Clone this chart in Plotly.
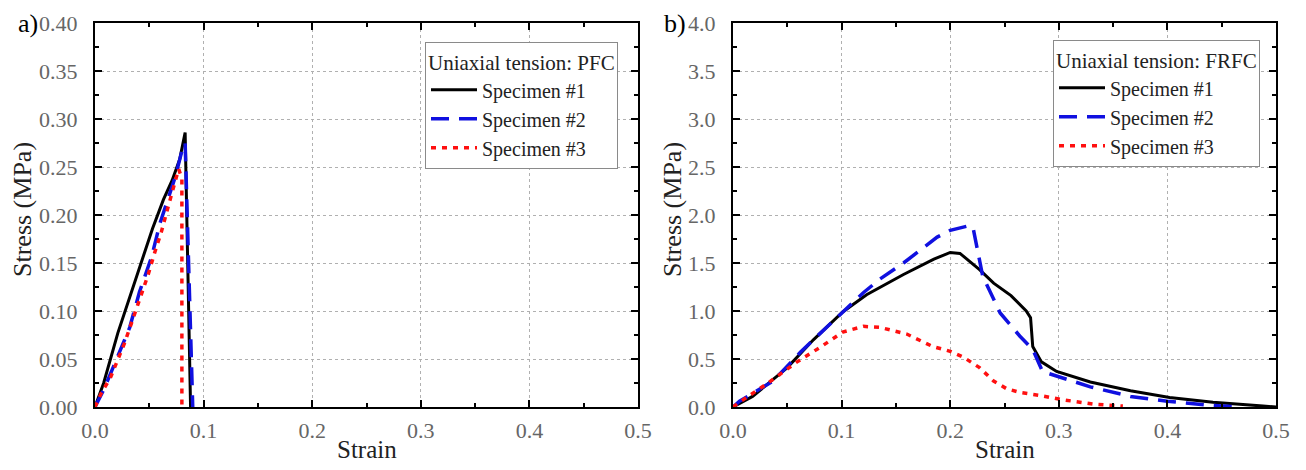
import plotly.graph_objects as go

# ---------------- data ----------------
# Panel a) PFC
a_s1_strain = [0, 0.008, 0.021, 0.030, 0.041, 0.053, 0.063, 0.071, 0.078, 0.083, 0.088]
a_s1_stress = [0, 0.025, 0.077, 0.108, 0.146, 0.186, 0.216, 0.236, 0.258, 0.286, 0.0]

a_s2_strain = [0, 0.008, 0.017, 0.032, 0.041, 0.052, 0.060, 0.074, 0.081, 0.083, 0.090]
a_s2_stress = [0, 0.018, 0.042, 0.083, 0.120, 0.156, 0.192, 0.240, 0.271, 0.275, 0.0]

a_s3_strain = [0, 0.006, 0.014, 0.020, 0.027, 0.035, 0.042, 0.049, 0.055, 0.061, 0.067, 0.073, 0.077, 0.080, 0.080]
a_s3_stress = [0, 0.015, 0.030, 0.046, 0.066, 0.092, 0.115, 0.138, 0.161, 0.182, 0.207, 0.232, 0.248, 0.238, 0.0]

# Panel b) FRFC
b_s1_strain = [0, 0.018, 0.050, 0.074, 0.101, 0.123, 0.157, 0.185, 0.200, 0.209, 0.227, 0.240,
               0.256, 0.270, 0.274, 0.276, 0.284, 0.298, 0.329, 0.366, 0.402, 0.442, 0.488, 0.500]
b_s1_stress = [0, 0.11, 0.41, 0.70, 0.99, 1.17, 1.38, 1.54, 1.61, 1.60, 1.43, 1.29,
               1.16, 1.00, 0.93, 0.63, 0.47, 0.37, 0.26, 0.17, 0.10, 0.05, 0.01, 0.0]

b_s2_strain = [0, 0.006, 0.037, 0.062, 0.074, 0.100, 0.120, 0.135, 0.157, 0.188, 0.200, 0.218,
               0.221, 0.230, 0.246, 0.264, 0.276, 0.285, 0.301, 0.329, 0.366, 0.400, 0.436, 0.467]
b_s2_stress = [0, 0.06, 0.27, 0.57, 0.70, 0.97, 1.19, 1.33, 1.50, 1.77, 1.84, 1.89,
               1.87, 1.36, 0.98, 0.74, 0.60, 0.37, 0.31, 0.21, 0.11, 0.06, 0.02, 0.0]

b_s3_strain = [0, 0.006, 0.031, 0.059, 0.080, 0.101, 0.120, 0.135, 0.160, 0.184, 0.200, 0.212,
               0.227, 0.240, 0.252, 0.265, 0.283, 0.301, 0.332, 0.359]
b_s3_stress = [0, 0.05, 0.24, 0.47, 0.62, 0.78, 0.84, 0.83, 0.76, 0.63, 0.58, 0.52,
               0.41, 0.27, 0.19, 0.15, 0.12, 0.08, 0.03, 0.01]

series_names = ["Specimen #1", "Specimen #2", "Specimen #3"]
legend_titles = ["Uniaxial tension: PFC", "Uniaxial tension: FRFC"]
panel_labels = ["a)", "b)"]
x_title = "Strain"
y_title = "Stress (MPa)"

# ---------------- styles ----------------
FONT = "Liberation Serif, Times New Roman, serif"
styles = [
    dict(color="black", width=3, dash="solid"),
    dict(color="#1010e0", width=3.5, dash="18px,10px"),
    dict(color="#ff1010", width=3.5, dash="5px,6px"),
]

fig = go.Figure()

panel_a = [(a_s1_strain, a_s1_stress), (a_s2_strain, a_s2_stress), (a_s3_strain, a_s3_stress)]
panel_b = [(b_s1_strain, b_s1_stress), (b_s2_strain, b_s2_stress), (b_s3_strain, b_s3_stress)]

for i, (x, y) in enumerate(panel_a):
    fig.add_trace(go.Scatter(x=x, y=y, mode="lines", name=series_names[i], line=styles[i],
                             xaxis="x", yaxis="y", legend="legend"))
for i, (x, y) in enumerate(panel_b):
    fig.add_trace(go.Scatter(x=x, y=y, mode="lines", name=series_names[i], line=styles[i],
                             xaxis="x2", yaxis="y2", legend="legend2"))

# page has an 8px body margin; figure sized so page is 1306x470
OFF = 8
W, H = 1306 - 2 * OFF, 470 - 2 * OFF

def px(x):
    return (x - OFF) / W

def py(y):
    return 1 - (y - OFF) / H

xa = [px(95), px(638)]
xb = [px(733), px(1276)]
ydom = [py(407), py(23)]

tickfont = dict(family=FONT, size=22, color="#666666")

def xaxis(domain, anchor):
    return dict(domain=domain, anchor=anchor, range=[0, 0.5], dtick=0.1, tick0=0,
                tickformat=".1f", ticks="inside", ticklen=7, tickwidth=1.5, tickcolor="black",
                minor=dict(dtick=0.05, ticks="inside", ticklen=4, tickcolor="black", showgrid=False),
                showline=True, linecolor="black", linewidth=2, mirror="ticks",
                showgrid=True, gridcolor="#b0b0b0", griddash="dot", gridwidth=1,
                zeroline=False, tickfont=tickfont, ticklabelstandoff=3, automargin=False)

def yaxis(domain, anchor, rng, dt, fmt):
    return dict(domain=domain, anchor=anchor, range=rng, dtick=dt, tick0=0,
                tickformat=fmt, ticks="inside", ticklen=7, tickwidth=1.5, tickcolor="black",
                minor=dict(dtick=dt / 2, ticks="inside", ticklen=4, tickcolor="black", showgrid=False),
                showline=True, linecolor="black", linewidth=2, mirror="ticks",
                showgrid=True, gridcolor="#b0b0b0", griddash="dot", gridwidth=1,
                zeroline=False, tickfont=tickfont, ticklabelstandoff=11, automargin=False)

legend_common = dict(bgcolor="white", bordercolor="#8a8a8a", borderwidth=1,
                     font=dict(family=FONT, size=20, color="#222222"),
                     xanchor="right", yanchor="top", itemwidth=46,
                     tracegroupgap=0)

def label(text, x, y, size, angle=0, color="#222222"):
    return dict(text=text, x=px(x), y=py(y), xref="paper", yref="paper",
                xanchor="center", yanchor="middle", showarrow=False, textangle=angle,
                borderpad=0, font=dict(family=FONT, size=size, color=color))

fig.update_layout(
    width=W, height=H,
    margin=dict(l=0, r=0, t=0, b=0, autoexpand=False),
    paper_bgcolor="white", plot_bgcolor="white",
    font=dict(family=FONT),
    xaxis=xaxis(xa, "y"),
    yaxis=yaxis(ydom, "x", [0, 0.4], 0.05, ".2f"),
    xaxis2=xaxis(xb, "y2"),
    yaxis2=yaxis(ydom, "x2", [0, 4.0], 0.5, ".1f"),
    legend=dict(x=px(618), y=py(42),
                title=dict(text=legend_titles[0], font=dict(family=FONT, size=21, color="#222222")),
                **legend_common),
    legend2=dict(x=px(1260), y=py(40),
                 title=dict(text=legend_titles[1], font=dict(family=FONT, size=21, color="#222222")),
                 **legend_common),
    annotations=[
        label(panel_labels[0], 28, 23, 26, color="black"),
        label(panel_labels[1], 675, 23, 26, color="black"),
        label(x_title, 367, 449, 25),
        label(x_title, 1005, 449, 25),
        label(y_title, 22, 210, 26, angle=-90),
        label(y_title, 672, 210, 26, angle=-90),
    ],
)

fig.write_html("out.html")
